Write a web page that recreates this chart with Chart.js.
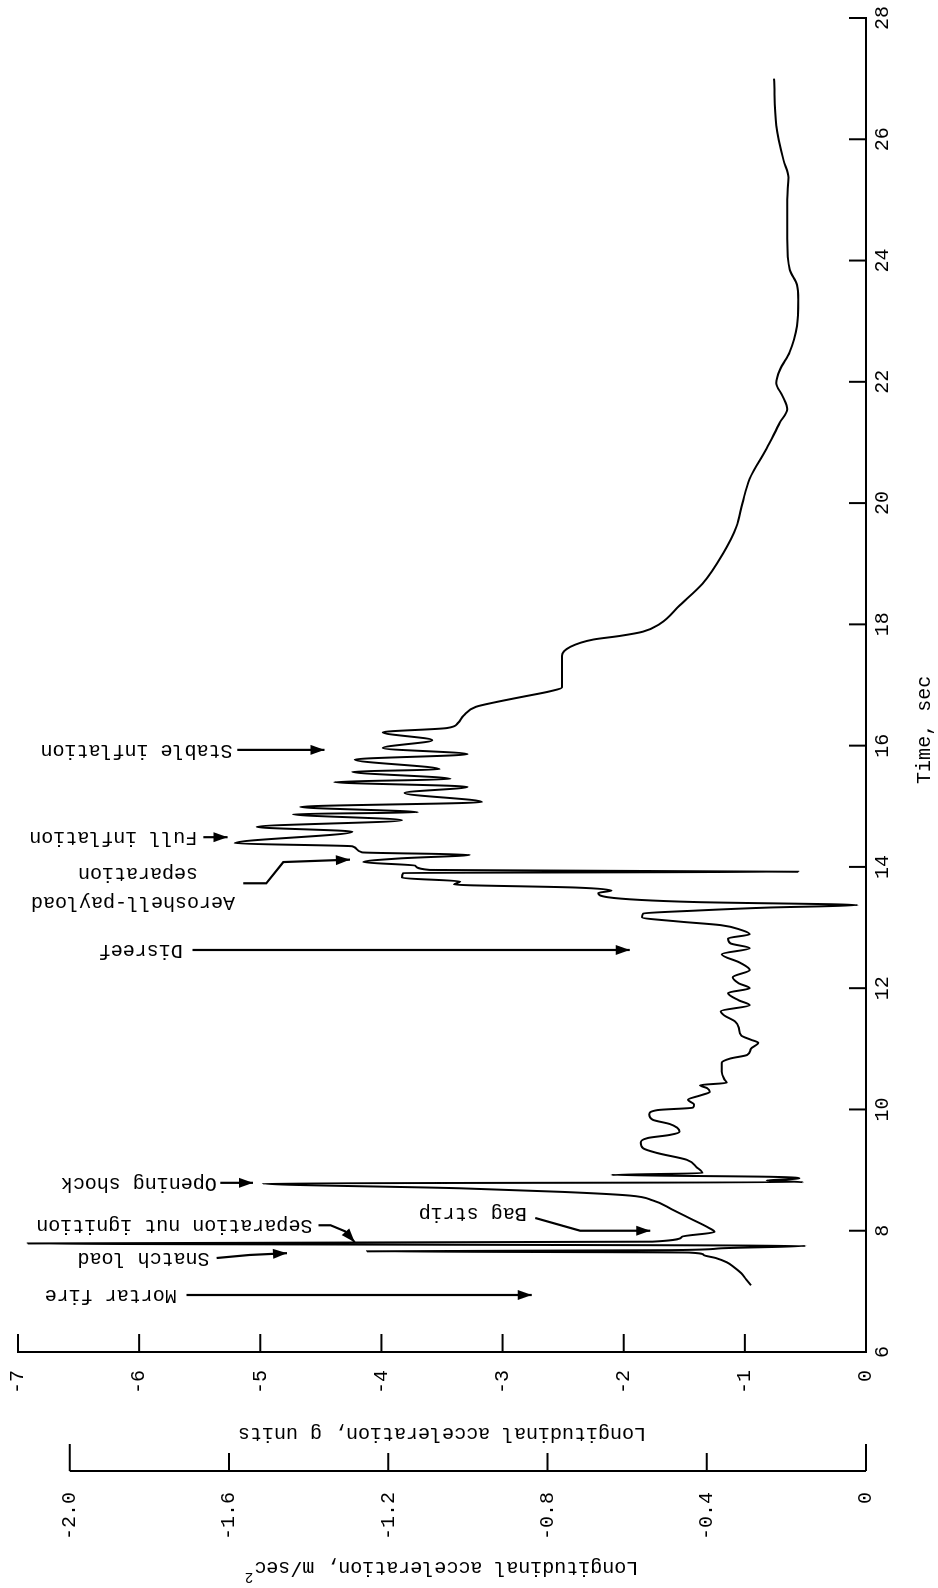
<!DOCTYPE html>
<html>
<head>
<meta charset="utf-8">
<title>Longitudinal acceleration</title>
<script src="https://cdn.jsdelivr.net/npm/chart.js@4.4.1/dist/chart.umd.min.js"></script>
<style>
  html, body { margin: 0; padding: 0; width: 938px; height: 1588px; overflow: hidden; background: #fff; }
  /* the figure is drawn landscape and turned a quarter turn, like the printed page */
  #wrap { position: absolute; left: 0; top: 0; width: 1588px; height: 938px;
          transform-origin: 0 0; transform: translate(0, 1588px) rotate(-90deg); }
</style>
</head>
<body>
<div id="wrap"><canvas id="chart" width="1588" height="938"></canvas></div>
<script>
// Time history (sec, g units)
const timeSec = [
  7.10, 7.20, 7.30, 7.40, 7.48, 7.55, 7.60, 7.64, 7.66, 7.68, 7.71, 7.75, 7.79, 7.82, 7.90, 7.98,
  8.05, 8.20, 8.35, 8.50, 8.58, 8.64, 8.70, 8.78, 8.80, 8.83, 8.86, 8.89, 8.92, 8.95, 9.05, 9.17,
  9.28, 9.36, 9.45, 9.53, 9.58, 9.63, 9.70, 9.76, 9.83, 9.92, 9.99, 10.03, 10.08, 10.16, 10.23, 10.29,
  10.35, 10.40, 10.44, 10.50, 10.62, 10.77, 10.84, 10.90, 11.00, 11.10, 11.15, 11.22, 11.35, 11.45, 11.55, 11.62,
  11.72, 11.80, 11.92, 12.00, 12.08, 12.18, 12.30, 12.42, 12.56, 12.66, 12.74, 12.82, 12.89, 12.96, 13.04, 13.10,
  13.17, 13.23, 13.28, 13.33, 13.37, 13.42, 13.50, 13.57, 13.61, 13.66, 13.71, 13.76, 13.82, 13.90, 13.92, 13.95,
  14.02, 14.08, 14.14, 14.20, 14.24, 14.34, 14.39, 14.58, 14.66, 14.77, 14.87, 14.90, 14.99, 15.07, 15.22, 15.32,
  15.40, 15.45, 15.57, 15.61, 15.77, 15.86, 15.96, 16.09, 16.22, 16.29, 16.37, 16.50, 16.64, 16.72, 16.80, 16.90,
  16.96, 17.20, 17.48, 17.63, 17.75, 17.81, 17.88, 18.01, 18.31, 18.67, 19.17, 19.61, 20.00, 20.40, 20.90, 21.33,
  21.55, 21.77, 21.98, 22.20, 22.49, 22.92, 23.35, 23.60, 23.85, 24.36, 25.01, 25.37, 25.65, 26.23, 27.00
];
const accelG = [
  -0.95, -0.99, -1.03, -1.09, -1.15, -1.24, -1.34, -1.46, -4.12, -1.60, -1.20, -0.50, -6.92, -1.76, -1.52, -1.25,
  -1.30, -1.45, -1.60, -1.76, -1.95, -2.50, -3.35, -4.98, -0.52, -0.82, -0.55, -0.80, -2.10, -1.35, -1.40, -1.48,
  -1.72, -1.84, -1.86, -1.80, -1.62, -1.54, -1.56, -1.62, -1.76, -1.79, -1.72, -1.43, -1.42, -1.47, -1.37, -1.29,
  -1.31, -1.37, -1.15, -1.17, -1.19, -1.19, -1.12, -0.98, -0.95, -0.89, -0.95, -1.03, -1.05, -1.08, -1.17, -1.20,
  -0.96, -1.05, -1.14, -0.96, -1.05, -1.10, -0.96, -1.04, -1.19, -0.96, -1.12, -1.14, -0.96, -1.03, -1.20, -1.55,
  -1.85, -1.84, -1.40, -0.80, -0.07, -1.40, -2.13, -2.21, -2.10, -2.40, -3.40, -3.35, -3.83, -3.82, -0.56, -3.60,
  -3.72, -4.15, -3.85, -3.27, -4.16, -4.24, -5.21, -4.24, -5.03, -3.83, -4.73, -3.70, -4.67, -3.17, -3.81, -3.29,
  -4.39, -3.43, -4.24, -3.52, -4.22, -3.29, -3.99, -3.58, -3.99, -3.46, -3.37, -3.32, -3.22, -3.05, -2.85, -2.60,
  -2.51, -2.51, -2.51, -2.44, -2.25, -2.03, -1.84, -1.70, -1.54, -1.35, -1.18, -1.07, -1.02, -0.96, -0.82, -0.71,
  -0.65, -0.69, -0.74, -0.71, -0.63, -0.57, -0.56, -0.57, -0.63, -0.65, -0.65, -0.64, -0.68, -0.74, -0.76
];

const timeTicks = [6, 8, 10, 12, 14, 16, 18, 20, 22, 24, 26, 28];
const gTicks = [-7, -6, -5, -4, -3, -2, -1, 0];
const msTicks = [-2.0, -1.6, -1.2, -0.8, -0.4, 0];

// Event labels: where the text starts (t, a) and the arrow path in data units
const notes = [
  { text: "Mortar fire", t: 6.94, a: -5.69, arrow: [[6.94, -5.61], [6.94, -2.76]] },
  { text: "Snatch load", t: 7.55, a: -5.42, arrow: [[7.55, -5.36], [7.60, -5.09], [7.63, -4.78]] },
  { text: "Separation nut ignition", t: 8.09, a: -4.57, arrow: [[8.09, -4.52], [8.09, -4.42], [7.99, -4.30], [7.81, -4.22]] },
  { text: "Bag strip", t: 8.28, a: -2.80, arrow: [[8.21, -2.73], [8.00, -2.36], [8.00, -1.78]] },
  { text: "Opening shock", t: 8.79, a: -5.36, arrow: [[8.79, -5.33], [8.79, -5.06]] },
  { text: "Disreef", t: 12.63, a: -5.64, arrow: [[12.63, -5.56], [12.63, -1.95]] },
  { text: "Aeroshell-payload", t: 13.42, a: -6.05, center: true },
  { text: "separation", t: 13.90, a: -6.01, center: true,
    arrow: [[13.73, -5.14], [13.73, -4.95], [14.08, -4.81], [14.12, -4.26]] },
  { text: "Full inflation", t: 14.49, a: -5.52, arrow: [[14.49, -5.47], [14.49, -5.27]] },
  { text: "Stable inflation", t: 15.93, a: -5.23, arrow: [[15.93, -5.19], [15.93, -4.47]] }
];

const FONT = '"Liberation Mono", "Courier New", monospace';
Chart.defaults.font.family = FONT;
Chart.defaults.font.size = 20;
Chart.defaults.color = "#000";

function line(ctx, x0, y0, x1, y1) {
  ctx.beginPath();
  ctx.moveTo(x0, y0);
  ctx.lineTo(x1, y1);
  ctx.stroke();
}

function arrowHead(ctx, x0, y0, x1, y1) {
  const ang = Math.atan2(y1 - y0, x1 - x0);
  const L = 14, W = 5;
  const c = Math.cos(ang), s = Math.sin(ang);
  ctx.beginPath();
  ctx.moveTo(x1, y1);
  ctx.lineTo(x1 - L * c + W * s, y1 - L * s - W * c);
  ctx.lineTo(x1 - L * c - W * s, y1 - L * s + W * c);
  ctx.closePath();
  ctx.fill();
}

// Inward tick marks, the short second scale, titles and event labels
const overlay = {
  id: "overlay",
  afterDraw(chart) {
    const ctx = chart.ctx;
    const xs = chart.scales.x, ys = chart.scales.y, ys2 = chart.scales.y2;
    const area = chart.chartArea;
    const px = (t, a) => [xs.getPixelForValue(t), ys.getPixelForValue(a)];

    ctx.save();
    ctx.strokeStyle = "#000";
    ctx.fillStyle = "#000";
    ctx.lineWidth = 2;

    timeTicks.forEach(t => {
      const X = xs.getPixelForValue(t);
      line(ctx, X, area.bottom, X, area.bottom - 17);
    });
    gTicks.forEach(a => {
      const Y = ys.getPixelForValue(a);
      line(ctx, area.left, Y, area.left + 18, Y);
    });

    const X2 = ys2.right;
    line(ctx, X2, ys2.getPixelForValue(0), X2, ys2.getPixelForValue(msTicks[0]));
    msTicks.forEach((v, i) => {
      const Y = ys2.getPixelForValue(v);
      const len = (i === 0 || i === msTicks.length - 1) ? 27 : 18;
      line(ctx, X2, Y, X2 + len, Y);
    });

    // axis titles
    ctx.font = "20px " + FONT;
    ctx.textBaseline = "middle";
    ctx.textAlign = "center";
    ctx.fillText("Time, sec", xs.getPixelForValue(16.26), area.bottom + 59);

    const midY = ys.getPixelForValue(-3.5);
    ctx.save();
    ctx.translate(area.left - 81, midY);
    ctx.rotate(-Math.PI / 2);
    ctx.fillText("Longitudinal acceleration, g units", 0, 0);
    ctx.restore();

    ctx.save();
    ctx.translate(X2 - 96, midY);
    ctx.rotate(-Math.PI / 2);
    const main = "Longitudinal acceleration, m/sec";
    const w = ctx.measureText(main).width;
    ctx.font = "14px " + FONT;
    const w2 = ctx.measureText("2").width;
    ctx.textAlign = "left";
    ctx.fillText("2", -(w + w2) / 2 + w + 1, -10);
    ctx.font = "20px " + FONT;
    ctx.fillText(main, -(w + w2) / 2, 0);
    ctx.restore();

    // event labels with arrows
    notes.forEach(n => {
      const [X, Y] = px(n.t, n.a);
      ctx.save();
      ctx.translate(X, Y);
      ctx.rotate(-Math.PI / 2);
      ctx.textAlign = n.center ? "center" : "left";
      ctx.fillText(n.text, 0, 0);
      ctx.restore();
      if (n.arrow) {
        const pts = n.arrow.map(p => px(p[0], p[1]));
        ctx.lineWidth = 2.2;
        ctx.beginPath();
        ctx.moveTo(pts[0][0], pts[0][1]);
        for (let i = 1; i < pts.length; i++) ctx.lineTo(pts[i][0], pts[i][1]);
        ctx.stroke();
        const a = pts[pts.length - 2], b = pts[pts.length - 1];
        arrowHead(ctx, a[0], a[1], b[0], b[1]);
      }
    });
    ctx.restore();
  }
};

const tickFont = { family: FONT, size: 20 };

// vertical scales: fixed box width, no extra end padding so the plot keeps its full height
function fixWidth(w) {
  return s => { s.width = w; s.paddingTop = 0; s.paddingBottom = 0; };
}

new Chart(document.getElementById("chart"), {
  type: "line",
  data: {
    datasets: [{
      data: timeSec.map((t, i) => ({ x: t, y: accelG[i] })),
      borderColor: "#000",
      borderWidth: 2,
      pointRadius: 0,
      fill: false,
      cubicInterpolationMode: "monotone"
    }]
  },
  options: {
    responsive: false,
    animation: false,
    devicePixelRatio: 1,
    layout: { padding: { left: 0, right: 18, top: 18, bottom: 0 } },
    plugins: { legend: { display: false }, tooltip: { enabled: false } },
    scales: {
      x: {
        type: "linear", position: "bottom", min: 6, max: 28,
        ticks: { stepSize: 2, padding: 5, color: "#000", font: tickFont, maxRotation: 0, autoSkip: false },
        grid: { display: false, drawTicks: false },
        border: { display: true, color: "#000", width: 2 },
        afterFit: s => { s.height = 72; }
      },
      y: {
        type: "linear", position: "left", reverse: true, min: -7, max: 0, weight: 0,
        ticks: { stepSize: 1, padding: 18, color: "#000", font: tickFont },
        grid: { display: false, drawTicks: false },
        border: { display: true, color: "#000", width: 2 },
        afterFit: fixWidth(119)
      },
      y2: {
        type: "linear", axis: "y", position: "left", reverse: true, min: -2.13, max: 0, weight: 1,
        afterBuildTicks: s => { s.ticks = msTicks.map(v => ({ value: v })); },
        ticks: { padding: 21, color: "#000", font: tickFont,
                 callback: v => (v === 0 ? "0" : v.toFixed(1)) },
        grid: { display: false, drawTicks: false },
        border: { display: false },
        afterFit: fixWidth(117)
      }
    }
  },
  plugins: [overlay]
});
</script>
</body>
</html>
